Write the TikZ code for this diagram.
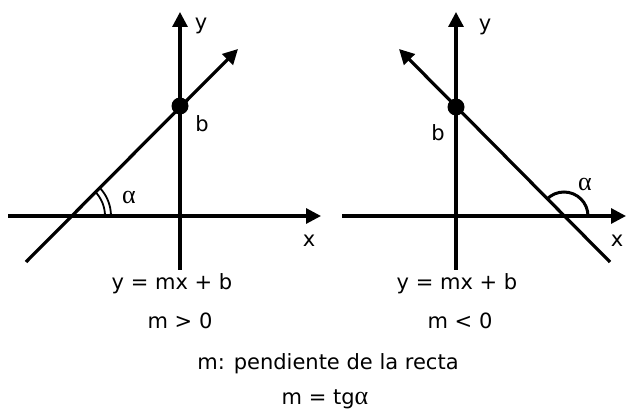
\documentclass[tikz,border=0pt]{standalone}
\usepackage{fontspec}
\setmainfont{DejaVu Sans}
\newfontfamily\greekfont{Liberation Serif}
\newcommand{\alfa}{{\greekfont\fontsize{26}{28}\selectfont α}}
\usetikzlibrary{arrows.meta}
\begin{document}
\begin{tikzpicture}[x=1pt,y=-1pt,
  axis/.style={line width=3.2pt,-{Triangle[length=15pt,width=15pt]}},
  recta/.style={line width=3.2pt,-{Triangle[length=15pt,width=15pt]}},
  punto/.style={circle,fill=black,inner sep=0pt,minimum size=17pt},
  lbl/.style={font=\fontsize{21}{24}\selectfont,inner sep=0pt},
  txt/.style={font=\fontsize{21}{24}\selectfont,inner sep=0pt,anchor=base},
  arco/.style={line width=1.8pt},
  arcog/.style={line width=3pt}]
\useasboundingbox (0,0) rectangle (627,414);
% ---- left graph
\coordinate (lxa) at (8,216);
\coordinate (lxb) at (321,216);
\coordinate (lya) at (180,270);
\coordinate (lyb) at (180,12);
\coordinate (lra) at (26,262);
\coordinate (lrb) at (238,49);
\coordinate (lo) at (70,216);
\draw[axis] (lxa) -- (lxb);
\draw[axis] (lya) -- (lyb);
\draw[recta] (lra) -- (lrb);
\node[punto] (lb) at (180,106) {};
\draw[arco] ([xshift=35pt]lo) arc[start angle=0,end angle=45,radius=35pt];
\draw[arco] ([xshift=41pt]lo) arc[start angle=0,end angle=45,radius=41pt];
\node[lbl] (ly) at (201,26) {y};
\node[lbl] (lbt) at (202,124) {b};
\node[lbl] (lx) at (309,241) {x};
\node[lbl] (lal) at (129,197) {\alfa};
% ---- right graph
\coordinate (rxa) at (342,216);
\coordinate (rxb) at (626,216);
\coordinate (rya) at (456,270);
\coordinate (ryb) at (456,12);
\coordinate (rra) at (610,262);
\coordinate (rrb) at (399,49);
\coordinate (ro) at (564,216);
\draw[axis] (rxa) -- (rxb);
\draw[axis] (rya) -- (ryb);
\draw[recta] (rra) -- (rrb);
\node[punto] (rb) at (456,107) {};
\draw[arcog] ([xshift=24pt]ro) arc[start angle=0,end angle=135,radius=24pt];
\node[lbl] (ry) at (485,27) {y};
\node[lbl] (rbt) at (438,133) {b};
\node[lbl] (rx) at (617,241) {x};
\node[lbl] (ral) at (585,184) {\alfa};
% ---- texts
\node[txt] (eq1) at (172,290) {y = mx + b};
\node[txt] (m1) at (180,328) {m > 0};
\node[txt] (eq2) at (457,290) {y = mx + b};
\node[txt] (m2) at (460,328) {m < 0};
\node[txt] (pend) at (328,370) {m: pendiente de la recta};
\node[txt] (tg) at (325,404) {m = tg\alfa};
\end{tikzpicture}
\end{document}
